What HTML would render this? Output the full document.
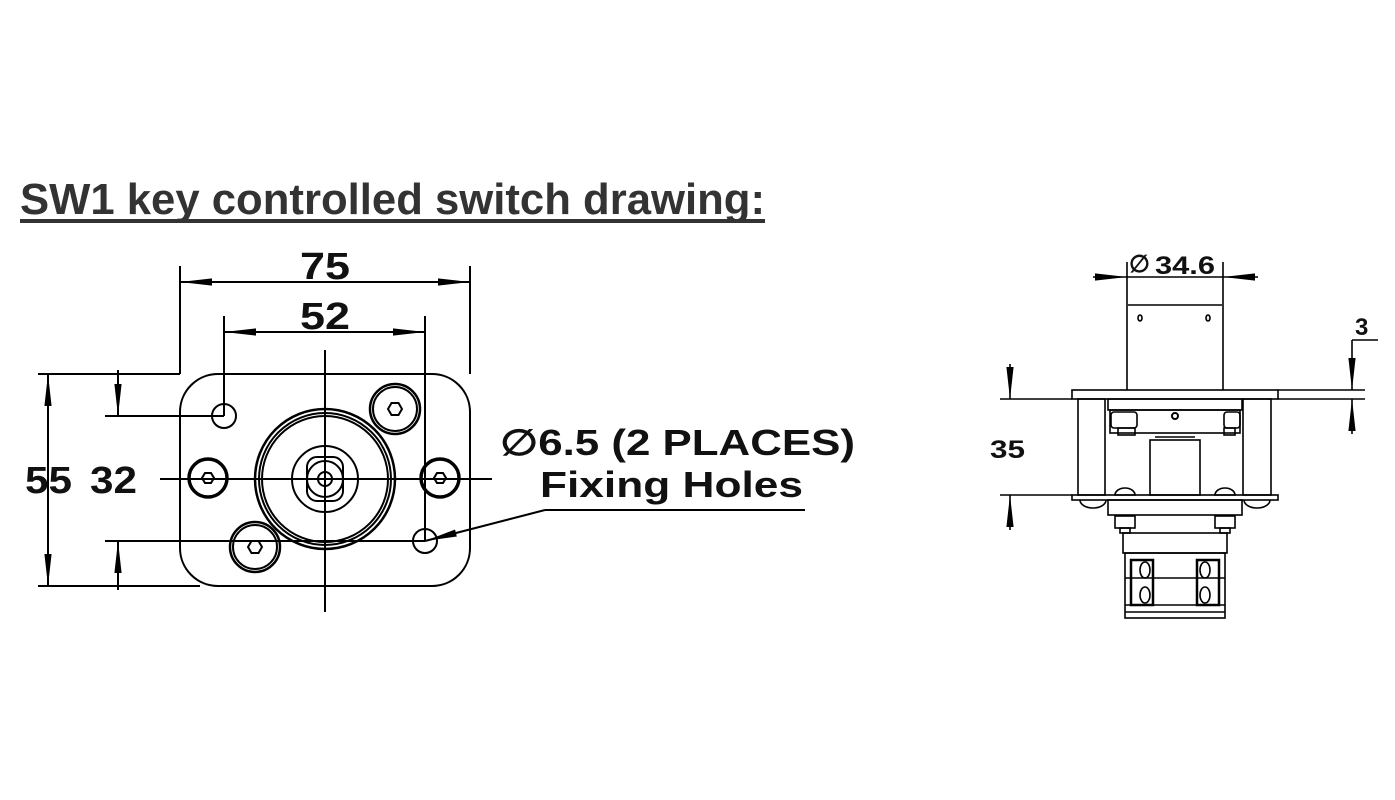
<!DOCTYPE html>
<html><head><meta charset="utf-8"><style>
html,body{margin:0;padding:0;background:#fff;}
svg{display:block;}
text{font-family:"Liberation Sans",sans-serif;font-weight:bold;fill:#111;}
</style></head><body>
<svg width="1395" height="800" viewBox="0 0 1395 800" xmlns="http://www.w3.org/2000/svg">
<defs>
<marker id="a" viewBox="0 0 10 10" refX="10" refY="5" markerWidth="32" markerHeight="9" markerUnits="userSpaceOnUse" orient="auto-start-reverse" preserveAspectRatio="none"><path d="M0,1 L10,5 L0,9 Z" fill="#000"/></marker>
</defs>
<text x="20" y="214" font-size="44" fill="#333" style="fill:#333" textLength="745" lengthAdjust="spacingAndGlyphs">SW1 key controlled switch drawing:</text>
<rect x="20" y="219" width="745" height="4" fill="#333"/>

<g stroke="#000" fill="none" stroke-width="2">
<rect x="180" y="374" width="290" height="212" rx="38"/>
<line x1="325" y1="350" x2="325" y2="612"/>
<line x1="160" y1="479" x2="492" y2="479"/>
<line x1="180" y1="266" x2="180" y2="374"/>
<line x1="470" y1="266" x2="470" y2="374"/>
<line x1="180" y1="282" x2="470" y2="282" marker-start="url(#a)" marker-end="url(#a)"/>
<line x1="224" y1="316" x2="224" y2="416"/>
<line x1="425" y1="316" x2="425" y2="541"/>
<line x1="224" y1="332" x2="425" y2="332" marker-start="url(#a)" marker-end="url(#a)"/>
<line x1="38" y1="374" x2="180" y2="374"/>
<line x1="38" y1="586" x2="200" y2="586"/>
<line x1="48" y1="374" x2="48" y2="586" marker-start="url(#a)" marker-end="url(#a)"/>
<line x1="105" y1="416" x2="224" y2="416"/>
<line x1="105" y1="541" x2="425" y2="541"/>
<line x1="118" y1="370" x2="118" y2="416" marker-end="url(#a)"/>
<line x1="118" y1="590" x2="118" y2="541" marker-end="url(#a)"/>
<polyline points="545,510 805,510"/>
<line x1="545" y1="510" x2="425" y2="541" marker-end="url(#a)"/>
<circle cx="325" cy="479" r="70" stroke-width="2.5"/>
<circle cx="325" cy="479" r="66"/>
<circle cx="325" cy="479" r="63"/>
<circle cx="325" cy="479" r="33"/>
<rect x="307" y="457" width="36" height="44" rx="10"/>
<circle cx="325" cy="479" r="18"/>
<circle cx="325" cy="479" r="7"/>
<circle cx="395" cy="409" r="25" stroke-width="2.5"/><circle cx="395" cy="409" r="22"/>
<polygon points="402,409 398.5,415 391.5,415 388,409 391.5,403 398.5,403"/>
<circle cx="255" cy="547" r="25" stroke-width="2.5"/><circle cx="255" cy="547" r="22"/>
<polygon points="262,547 258.5,553 251.5,553 248,547 251.5,541 258.5,541"/>
<circle cx="224" cy="416" r="12"/>
<circle cx="425" cy="541" r="12"/>
<circle cx="208" cy="478" r="19" stroke-width="3.5"/>
<polygon points="214,478 211,483 205,483 202,478 205,473 211,473"/>
<circle cx="440" cy="478" r="19" stroke-width="3.5"/>
<polygon points="446,478 443,483 437,483 434,478 437,473 443,473"/>
</g>
<text x="300" y="279" font-size="38" textLength="50" lengthAdjust="spacingAndGlyphs">75</text>
<text x="300" y="329" font-size="38" textLength="50" lengthAdjust="spacingAndGlyphs">52</text>
<text x="25" y="493" font-size="38" textLength="47" lengthAdjust="spacingAndGlyphs">55</text>
<text x="90" y="493" font-size="38" textLength="47" lengthAdjust="spacingAndGlyphs">32</text>
<text x="500" y="455" font-size="36" textLength="355" lengthAdjust="spacingAndGlyphs">∅6.5 (2 PLACES)</text>
<text x="540" y="497" font-size="36" textLength="263" lengthAdjust="spacingAndGlyphs">Fixing Holes</text>

<g stroke="#000" fill="none" stroke-width="1.6">
<line x1="1127" y1="262" x2="1127" y2="390"/>
<line x1="1223" y1="262" x2="1223" y2="390"/>
<line x1="1093" y1="277" x2="1127" y2="277" marker-end="url(#a)"/>
<line x1="1258" y1="277" x2="1223" y2="277" marker-end="url(#a)"/>
<line x1="1127" y1="277" x2="1223" y2="277"/>
<line x1="1128" y1="305" x2="1222" y2="305"/>
<ellipse cx="1140" cy="318" rx="2" ry="3"/>
<ellipse cx="1208" cy="318" rx="2" ry="3"/>
<rect x="1072" y="390" width="206" height="9"/>
<line x1="1278" y1="390" x2="1365" y2="390"/>
<line x1="1278" y1="399" x2="1365" y2="399"/>
<line x1="1352" y1="340" x2="1378" y2="340"/>
<line x1="1352" y1="340" x2="1352" y2="390" marker-end="url(#a)"/>
<line x1="1352" y1="434" x2="1352" y2="399" marker-end="url(#a)"/>
<line x1="1000" y1="399" x2="1072" y2="399"/>
<line x1="1000" y1="495" x2="1072" y2="495"/>
<line x1="1010" y1="364" x2="1010" y2="399" marker-end="url(#a)"/>
<line x1="1010" y1="530" x2="1010" y2="495" marker-end="url(#a)"/>
<rect x="1078" y="399" width="27" height="96"/>
<rect x="1243" y="399" width="28" height="96"/>
<rect x="1108" y="399" width="134" height="11"/>
<rect x="1110" y="410" width="130" height="23"/>
<circle cx="1175" cy="416" r="3" stroke-width="2"/>
<rect x="1111" y="412" width="26" height="16" rx="3"/>
<rect x="1118" y="428" width="17" height="7"/>
<rect x="1224" y="412" width="16" height="16" rx="3"/>
<rect x="1224" y="428" width="11" height="7"/>
<rect x="1150" y="440" width="50" height="55"/>
<line x1="1155" y1="437" x2="1195" y2="437"/>
<path d="M1115,495 a10,7 0 0 1 20,0 z"/>
<path d="M1215,495 a10,7 0 0 1 20,0 z"/>
<rect x="1072" y="495" width="206" height="5"/>
<path d="M1080,500 a13,8 0 0 0 26,0"/>
<path d="M1244,500 a13,8 0 0 0 26,0"/>
<rect x="1108" y="500" width="134" height="15"/>
<rect x="1115" y="516" width="20" height="12"/>
<rect x="1215" y="516" width="20" height="12"/>
<rect x="1120" y="528" width="10" height="5"/>
<rect x="1220" y="528" width="10" height="5"/>
<rect x="1123" y="533" width="104" height="20"/>
<rect x="1125" y="553" width="100" height="65"/>
<line x1="1125" y1="578" x2="1225" y2="578"/>
<line x1="1125" y1="605" x2="1225" y2="605"/>
<line x1="1125" y1="612" x2="1225" y2="612"/>
<rect x="1131" y="560" width="22" height="45" stroke-width="2.5"/>
<rect x="1197" y="560" width="22" height="45" stroke-width="2.5"/>
<ellipse cx="1145" cy="570" rx="5" ry="8"/>
<ellipse cx="1145" cy="595" rx="5" ry="8"/>
<ellipse cx="1205" cy="570" rx="5" ry="8"/>
<ellipse cx="1205" cy="595" rx="5" ry="8"/>
</g>
<text x="1129" y="272" font-size="24">∅</text>
<text x="1155" y="274" font-size="25" textLength="60" lengthAdjust="spacingAndGlyphs">34.6</text>
<text x="1355" y="335" font-size="24">3</text>
<text x="990" y="458" font-size="25" textLength="35" lengthAdjust="spacingAndGlyphs">35</text>
</svg>
</body></html>
